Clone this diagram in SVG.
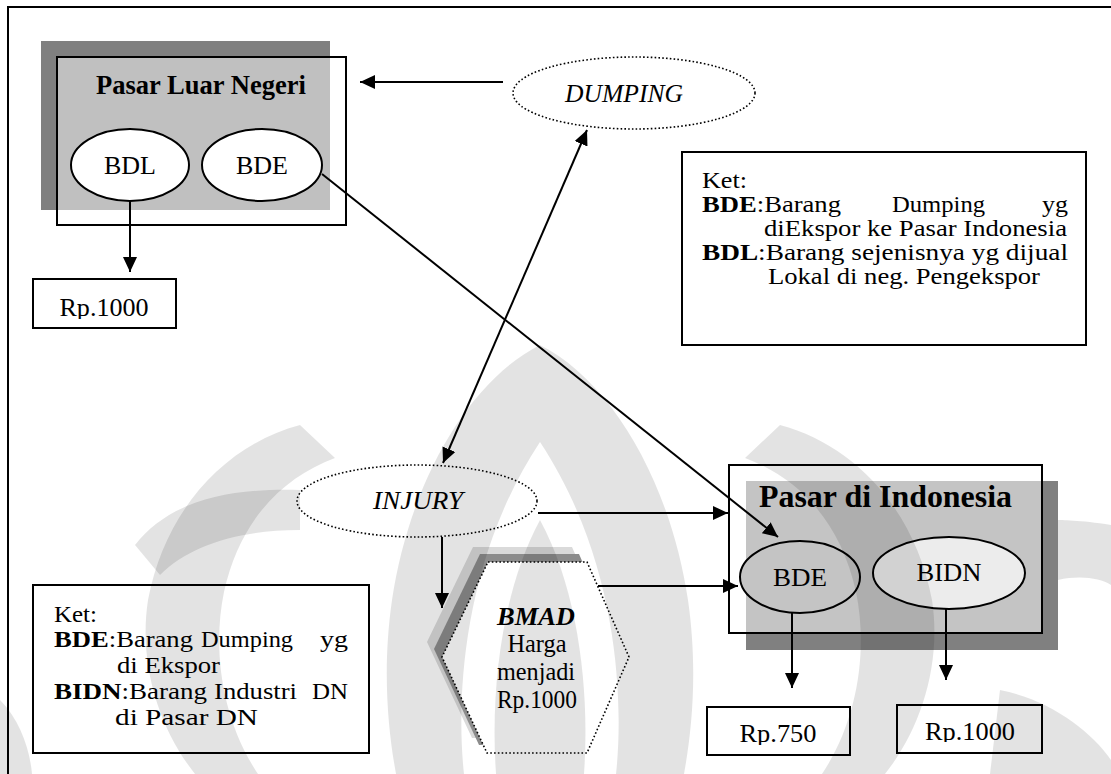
<svg xmlns="http://www.w3.org/2000/svg" width="1111" height="774" viewBox="0 0 1111 774">
<style>
.t{font-family:"Liberation Serif",Tinos,"Times New Roman",Times,serif;fill:#000;font-size:25px}
.k{font-size:24px}
.b{font-weight:bold}
.i{font-style:italic}
.ol{fill:none;stroke:#000;stroke-width:2}
.wb{fill:#fff;stroke:#000;stroke-width:2}
.dot{fill:#fff;stroke:#000;stroke-width:1.6;stroke-dasharray:1.6 2.2}
.c{fill:none;stroke:#000;stroke-width:2;marker-end:url(#ah)}
.wm{fill:#000;fill-opacity:0.11}
</style>
<defs>
<marker id="ah" markerUnits="userSpaceOnUse" markerWidth="16" markerHeight="14" refX="15" refY="7" orient="auto-start-reverse">
<path d="M0,0 L15,7 L0,14 Z" fill="#000"/>
</marker>
<clipPath id="cl1"><rect x="30" y="270" width="150" height="49"/></clipPath>
<clipPath id="cl2"><rect x="700" y="700" width="160" height="45"/></clipPath>
<clipPath id="cl3"><rect x="890" y="700" width="160" height="42"/></clipPath>
</defs>
<rect width="1111" height="774" fill="#fff"/>
<rect x="8" y="7" width="1120" height="800" class="ol"/>

<g id="pasar-luar-negeri">
<rect x="41" y="41" width="289" height="169" fill="#808080"/>
<rect x="57" y="57" width="273" height="153" fill="#c0c0c0"/>
<rect x="57" y="57" width="289" height="168" class="ol"/>
<text class="t b" x="201" y="94" text-anchor="middle" style="font-size:27px" textLength="210" lengthAdjust="spacingAndGlyphs">Pasar Luar Negeri</text>
<ellipse cx="130" cy="165" rx="59" ry="36" class="wb"/>
<text class="t" x="130" y="174" text-anchor="middle" textLength="52" lengthAdjust="spacingAndGlyphs">BDL</text>
<ellipse cx="262" cy="165" rx="60" ry="36" class="wb"/>
<text class="t" x="262" y="174" text-anchor="middle" textLength="52" lengthAdjust="spacingAndGlyphs">BDE</text>
</g>

<g id="rp1000-luar">
<rect x="33" y="279" width="143" height="49" class="wb"/>
<text class="t" x="104" y="316" text-anchor="middle" textLength="89" lengthAdjust="spacingAndGlyphs" clip-path="url(#cl1)">Rp.1000</text>
</g>

<g id="dumping">
<ellipse cx="634" cy="93" rx="121" ry="36" class="dot"/>
<text class="t i" x="624" y="102" text-anchor="middle" textLength="118" lengthAdjust="spacingAndGlyphs">DUMPING</text>
</g>

<g id="ket-kanan">
<rect x="682" y="152" width="404" height="193" class="wb"/>
<text class="t k" x="702" y="188" textLength="45" lengthAdjust="spacingAndGlyphs">Ket:</text>
<text class="t k" x="702" y="212" textLength="139" lengthAdjust="spacingAndGlyphs"><tspan class="b">BDE</tspan>:Barang</text>
<text class="t k" x="892" y="212" textLength="93" lengthAdjust="spacingAndGlyphs">Dumping</text>
<text class="t k" x="1042" y="212" textLength="26" lengthAdjust="spacingAndGlyphs">yg</text>
<text class="t k" x="764" y="236" textLength="303" lengthAdjust="spacingAndGlyphs">diEkspor ke Pasar Indonesia</text>
<text class="t k" x="702" y="260" textLength="366" lengthAdjust="spacingAndGlyphs"><tspan class="b">BDL</tspan>:Barang sejenisnya yg dijual</text>
<text class="t k" x="768" y="284" textLength="272" lengthAdjust="spacingAndGlyphs">Lokal di neg. Pengekspor</text>
</g>

<g id="injury">
<ellipse cx="417" cy="501" rx="120" ry="36" class="dot"/>
<text class="t i" x="418" y="509" text-anchor="middle" textLength="90" lengthAdjust="spacingAndGlyphs">INJURY</text>
</g>

<g id="bmad">
<polygon points="473,547 572,547 614,642 572,738 472,738 427,642" fill="#dadada"/>
<polygon points="480,554 579,554 621,649 579,745 479,745 434,649" fill="#8c8c8c"/>
<polygon points="488,562 587,562 629,657 587,753 487,753 442,657" class="dot"/>
<text class="t b i" x="536" y="625" text-anchor="middle" textLength="78" lengthAdjust="spacingAndGlyphs">BMAD</text>
<text class="t" x="537" y="652" text-anchor="middle" textLength="59" lengthAdjust="spacingAndGlyphs">Harga</text>
<text class="t" x="536" y="680" text-anchor="middle" textLength="78" lengthAdjust="spacingAndGlyphs">menjadi</text>
<text class="t" x="537" y="708" text-anchor="middle" textLength="80" lengthAdjust="spacingAndGlyphs">Rp.1000</text>
</g>

<g id="pasar-indonesia">
<rect x="746" y="481" width="312" height="169" fill="#808080"/>
<rect x="746" y="481" width="296" height="152" fill="#c4c4c4"/>
<rect x="729" y="465" width="313" height="168" class="ol"/>
<text class="t b" x="759" y="507" style="font-size:32px" textLength="253" lengthAdjust="spacingAndGlyphs">Pasar di Indonesia</text>
<ellipse cx="800" cy="577" rx="60" ry="36" fill="#c4c4c4" stroke="#000" stroke-width="2"/>
<text class="t" x="800" y="586" text-anchor="middle" textLength="54" lengthAdjust="spacingAndGlyphs">BDE</text>
<ellipse cx="949" cy="573" rx="76" ry="36" fill="#ececec" stroke="#000" stroke-width="2"/>
<text class="t" x="949" y="581" text-anchor="middle" textLength="65" lengthAdjust="spacingAndGlyphs">BIDN</text>
</g>

<g id="rp750">
<rect x="707" y="707" width="143" height="48" class="wb"/>
<text class="t" x="778" y="742" text-anchor="middle" textLength="77" lengthAdjust="spacingAndGlyphs" clip-path="url(#cl2)">Rp.750</text>
</g>

<g id="rp1000-indonesia">
<rect x="897" y="705" width="145" height="48" class="wb"/>
<text class="t" x="970" y="740" text-anchor="middle" textLength="90" lengthAdjust="spacingAndGlyphs" clip-path="url(#cl3)">Rp.1000</text>
</g>

<g id="ket-kiri">
<rect x="33" y="585" width="336" height="168" class="wb"/>
<text class="t k" x="54" y="622" textLength="43" lengthAdjust="spacingAndGlyphs">Ket:</text>
<text class="t k" x="54" y="647" textLength="139" lengthAdjust="spacingAndGlyphs"><tspan class="b">BDE</tspan>:Barang</text>
<text class="t k" x="201" y="647" textLength="92" lengthAdjust="spacingAndGlyphs">Dumping</text>
<text class="t k" x="320" y="647" textLength="28" lengthAdjust="spacingAndGlyphs">yg</text>
<text class="t k" x="117" y="673" textLength="103" lengthAdjust="spacingAndGlyphs">di Ekspor</text>
<text class="t k" x="54" y="699" textLength="153" lengthAdjust="spacingAndGlyphs"><tspan class="b">BIDN</tspan>:Barang</text>
<text class="t k" x="214" y="699" textLength="83" lengthAdjust="spacingAndGlyphs">Industri</text>
<text class="t k" x="312" y="699" textLength="36" lengthAdjust="spacingAndGlyphs">DN</text>
<text class="t k" x="115" y="725" textLength="143" lengthAdjust="spacingAndGlyphs">di Pasar DN</text>
</g>

<g id="connectors">
<line x1="503" y1="82" x2="360" y2="82" class="c"/>
<line x1="443" y1="463" x2="587" y2="130" class="c" style="marker-start:url(#ah)"/>
<line x1="130" y1="201" x2="130" y2="272" class="c"/>
<line x1="322" y1="174" x2="778" y2="537" class="c" stroke-width="1.6"/>
<line x1="538" y1="513" x2="728" y2="513" class="c"/>
<line x1="442" y1="537" x2="442" y2="608" class="c"/>
<line x1="598" y1="586" x2="738" y2="586" class="c"/>
<line x1="792" y1="613" x2="792" y2="688" class="c"/>
<line x1="946" y1="609" x2="946" y2="680" class="c"/>
</g>

<g id="watermark">
<path class="wm" d="M540 345 C610 380 670 480 688 600 C698 670 692 730 684 774 L616 774 C624 700 618 560 540 442 C462 560 456 700 464 774 L396 774 C388 730 382 670 392 600 C410 480 470 380 540 345 Z"/>
<path class="wm" d="M540 520 C578 590 590 690 584 774 L496 774 C490 690 502 590 540 520 Z"/>
<path class="wm" d="M300 425 C225 445 165 510 148 600 C138 665 160 730 195 774 L258 774 C222 720 212 650 224 592 C240 520 282 478 335 458 Z"/>
<path class="wm" d="M780 425 C855 445 915 510 932 600 C942 665 920 730 885 774 L822 774 C858 720 868 650 856 592 C840 520 798 478 745 458 Z"/>
<path class="wm" d="M135 545 C170 500 230 488 300 490 L300 530 C240 530 190 545 160 575 Z"/>
<path class="wm" d="M1111 525 C1080 520 1060 520 1058 520 L1058 580 C1080 575 1100 578 1111 585 Z"/>
<path class="wm" d="M0 700 C20 720 30 750 32 774 L0 774 Z"/>
<path class="wm" d="M1000 690 C1050 700 1090 730 1111 760 L1111 774 L990 774 Z"/>
</g>
</svg>
